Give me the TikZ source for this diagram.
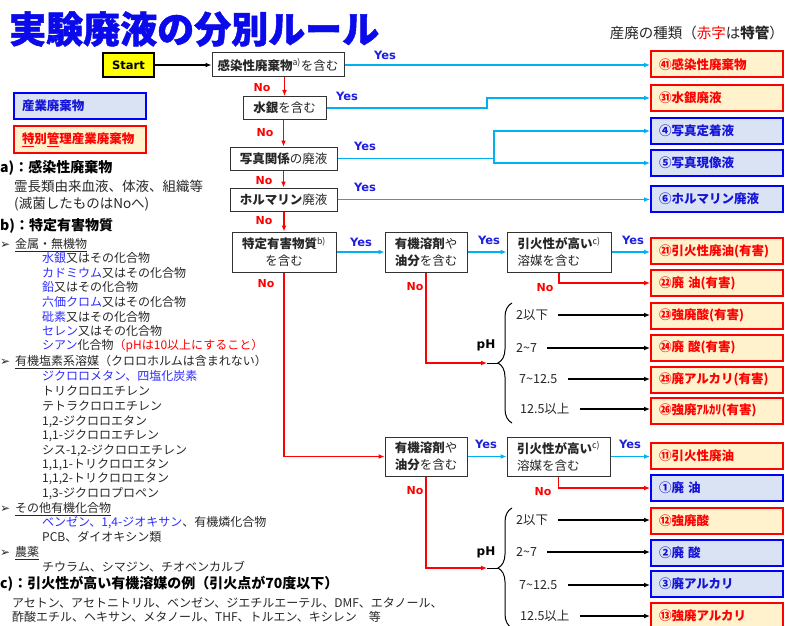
\documentclass[tikz,border=0pt]{standalone}
\usepackage{fontspec}
\setmainfont{Noto Sans CJK JP}
\newfontfamily\vfont{DejaVu Sans}
\newfontfamily\titlefont[BoldFeatures={FakeBold=1.3}]{Noto Sans CJK JP}
\usetikzlibrary{arrows.meta,decorations.pathreplacing}

\definecolor{txt}{RGB}{38,38,38}
\definecolor{titleblue}{RGB}{10,10,235}
\definecolor{yesblue}{RGB}{30,30,225}
\definecolor{listblue}{RGB}{45,45,255}
\definecolor{cyanline}{RGB}{0,176,240}
\definecolor{cream}{RGB}{255,242,204}
\definecolor{paleblue}{RGB}{218,227,243}
\definecolor{boxblue}{RGB}{20,20,215}
\definecolor{startyellow}{RGB}{255,255,0}

\newcommand{\bulmark}{\makebox[15pt][l]{\vfont\fontsize{12}{12}\selectfont ➢}}

\begin{document}
\begin{tikzpicture}[x=1pt,y=-1pt,
    q/.style={draw=black!80, line width=1pt, fill=white, inner sep=0pt, text=txt,
      font=\fontsize{12.5}{17}\selectfont},
    tk/.style={draw=red, line width=2pt, fill=cream, text=red, inner xsep=8pt,
      text width=116pt, minimum height=26pt, align=left,
      font=\fontsize{12.5}{15}\selectfont\bfseries},
    sp/.style={tk, draw=blue, fill=paleblue, text=boxblue},
    yes/.style={text=yesblue, inner sep=0pt, font=\vfont\bfseries\fontsize{11.5}{12}\selectfont},
    no/.style={text=red, inner sep=0pt, font=\vfont\bfseries\fontsize{11}{12}\selectfont},
    yesarr/.style={draw=cyanline, line width=1.6pt, -{Latex[length=6pt,width=5pt]}},
    noarr/.style={draw=red, line width=1.3pt, -{Latex[length=6pt,width=5pt]}},
    blk/.style={draw=black, line width=1.4pt, -{Latex[length=6pt,width=5pt]}},
    phl/.style={anchor=west, inner sep=0pt, text=txt, font=\fontsize{12.5}{14}\selectfont},
    note/.style={anchor=west, inner sep=0pt, text=txt, text height=0.88em, text depth=0.12em,
      font=\fontsize{12}{14}\selectfont},
    head/.style={note, text=black, font=\fontsize{14}{16}\selectfont\bfseries}]

    \useasboundingbox (0,0) rectangle (788,626);
    \clip (0,0) rectangle (788,626);

    % title and key
    \node[anchor=west, inner sep=0pt, text=titleblue, font=\titlefont\fontsize{37}{40}\selectfont\bfseries] (title) at (9,29) {実験廃液の分別ルール};
    \node[anchor=east, inner sep=0pt, text=txt, font=\fontsize{14.5}{16}\selectfont] (kind) at (784,33) {産廃の種類（{\color{red}赤字}は\textbf{特管}）};
    \node[sp] (key1) at (80,106) {産業廃棄物};
    \node[tk] (key2) at (80,139.5) {\underline{特}別\underline{管}理産業廃棄物};

    % questions
    \node[draw=black, line width=1.8pt, fill=startyellow, minimum width=51pt, minimum height=24pt,
      inner sep=0pt, font=\vfont\bfseries\fontsize{11.5}{12}\selectfont] (s) at (128.5,65) {Start};
    \node[q, minimum width=132pt, minimum height=24pt] (q1) at (278,65) {\textbf{感染性廃棄物}\textsuperscript{a)}を含む};
    \node[q, minimum width=83pt, minimum height=23pt] (q2) at (284.5,108) {\textbf{水銀}を含む};
    \node[q, minimum width=107pt, minimum height=23pt] (q3) at (283.5,158.5) {\textbf{写真関係}の廃液};
    \node[q, minimum width=107pt, minimum height=23pt] (q4) at (283.5,199.5) {\textbf{ホルマリン}廃液};
    \node[q, minimum width=104pt, minimum height=40pt, align=center] (q5) at (284,252) {\textbf{特定有害物質}\textsuperscript{b)}\\を含む};
    \node[q, minimum width=82pt, minimum height=40pt, align=center] (q6) at (426,252) {\textbf{有機溶剤}や\\\textbf{油分}を含む};
    \node[q, minimum width=104pt, minimum height=40pt, align=left] (q7) at (559,252) {\textbf{引火性が高い}\textsuperscript{c)}\\溶媒を含む};
    \node[q, minimum width=82pt, minimum height=39pt, align=center] (q8) at (426,456.5) {\textbf{有機溶剤}や\\\textbf{油分}を含む};
    \node[q, minimum width=103pt, minimum height=39pt, align=left] (q9) at (558.5,456.5) {\textbf{引火性が高い}\textsuperscript{c)}\\溶媒を含む};

    % waste kinds
    \node[tk] (r41) at (717,64.5) {㊶感染性廃棄物};
    \node[tk] (r31) at (717,98) {㉛水銀廃液};
    \node[sp] (r4) at (717,131) {④写真定着液};
    \node[sp] (r5) at (717,163) {⑤写真現像液};
    \node[sp] (r6) at (717,199) {⑥ホルマリン廃液};
    \node[tk] (r21) at (717,251) {㉑引火性廃油(有害)};
    \node[tk] (r22) at (717,283) {㉒廃 油(有害)};
    \node[tk] (r23) at (717,315.5) {㉓強廃酸(有害)};
    \node[tk] (r24) at (717,347.5) {㉔廃 酸(有害)};
    \node[tk] (r25) at (717,379.5) {㉕廃アルカリ(有害)};
    \node[tk] (r26) at (717,410.5) {㉖強廃ｱﾙｶﾘ(有害)};
    \node[tk] (r11) at (717,456) {⑪引火性廃油};
    \node[sp] (r1) at (717,488) {①廃 油};
    \node[tk] (r12) at (717,521) {⑫強廃酸};
    \node[sp] (r2) at (717,552.5) {②廃 酸};
    \node[sp] (r3) at (717,584) {③廃アルカリ};
    \node[tk] (r13) at (717,616) {⑬強廃アルカリ};

    % yes branches
    \coordinate (j2) at (487,108);
    \coordinate (j3) at (494,158.5);
    \draw[blk] (s) -- (q1);
    \draw[yesarr] (q1.east) -- (q1.east -| r41.west);
    \draw[yesarr] (q2.east) -- (j2) |- (r31.west);
    \draw[yesarr] (q3.east) -- (j3) |- (r4.west);
    \draw[yesarr] (j3) |- (r5.west);
    \draw[yesarr] (q4.east) -- (q4.east -| r6.west);
    \draw[yesarr] (q5) -- (q6);
    \draw[yesarr] (q6) -- (q7);
    \draw[yesarr] (q7.east) -- (q7.east -| r21.west);
    \draw[yesarr] (q8) -- (q9);
    \draw[yesarr] (q9.east) -- (q9.east -| r11.west);
    \node[yes] (y1) at (385,55) {Yes};
    \node[yes] (y2) at (347,96) {Yes};
    \node[yes] (y3) at (365,146) {Yes};
    \node[yes] (y4) at (365,187) {Yes};
    \node[yes] (y5) at (361,242) {Yes};
    \node[yes] (y6) at (489,240) {Yes};
    \node[yes] (y7) at (633,240) {Yes};
    \node[yes] (y8) at (486,444) {Yes};
    \node[yes] (y9) at (630,444) {Yes};

    % no branches
    \coordinate (p1) at (487,363);
    \coordinate (t1) at (498,363);
    \coordinate (p2) at (487,568);
    \coordinate (t2) at (498,568);
    \draw[noarr] (q2 |- q1.south) -- (q2.north);
    \draw[noarr] (q2.south -| q3) -- (q3.north);
    \draw[noarr] (q3.south) -- (q4.north);
    \draw[noarr] (q5 |- q4.south) -- (q5.north);
    \draw[noarr] (q5.south) |- (q8.west);
    \draw[noarr] (q6.south) |- (p1);
    \draw[noarr] (q7.south) |- (r22.west);
    \draw[noarr] (q8.south) |- (p2);
    \draw[noarr] (q9.south) |- (r1.west);
    \draw[line width=1pt] (p1) -- (t1);
    \draw[line width=1pt] (p2) -- (t2);
    \node[no] (n1) at (262,88) {No};
    \node[no] (n2) at (265,133) {No};
    \node[no] (n3) at (264,181) {No};
    \node[no] (n4) at (264,221) {No};
    \node[no] (n5) at (266,284) {No};
    \node[no] (n6) at (415,287) {No};
    \node[no] (n7) at (545,288) {No};
    \node[no] (n8) at (415,491) {No};
    \node[no] (n9) at (543,492) {No};

    % pH split
    \draw[line width=1pt, decorate, decoration={brace, amplitude=14pt}] (512,423) -- (512,303);
    \draw[line width=1pt, decorate, decoration={brace, amplitude=14pt}] (512,628) -- (512,508);
    \node[inner sep=0pt, font=\vfont\bfseries\fontsize{12}{13}\selectfont] (ph1) at (486,345) {pH};
    \node[inner sep=0pt, font=\vfont\bfseries\fontsize{12}{13}\selectfont] (ph2) at (486,552) {pH};
    \node[phl] (l1) at (516,315) {2以下};
    \node[phl] (l2) at (516,348) {2\textasciitilde 7};
    \node[phl] (l3) at (519,379) {7\textasciitilde 12.5};
    \node[phl] (l4) at (520,409) {12.5以上};
    \node[phl] (m1) at (516,520) {2以下};
    \node[phl] (m2) at (516,552) {2\textasciitilde 7};
    \node[phl] (m3) at (519,585) {7\textasciitilde 12.5};
    \node[phl] (m4) at (520,616) {12.5以上};
    \draw[blk, shorten <=10pt] (l1.east) -- (l1.east -| r23.west);
    \draw[blk, shorten <=10pt] (l2.east) -- (l2.east -| r24.west);
    \draw[blk, shorten <=10pt] (l3.east) -- (l3.east -| r25.west);
    \draw[blk, shorten <=10pt] (l4.east) -- (l4.east -| r26.west);
    \draw[blk, shorten <=10pt] (m1.east) -- (m1.east -| r12.west);
    \draw[blk, shorten <=10pt] (m2.east) -- (m2.east -| r2.west);
    \draw[blk, shorten <=10pt] (m3.east) -- (m3.east -| r3.west);
    \draw[blk, shorten <=10pt] (m4.east) -- (m4.east -| r13.west);

    % notes
    \node[head] (ta) at (0,169) {a)：感染性廃棄物};
    \node[note, font=\fontsize{13.5}{15}\selectfont] (ta1) at (14,188) {霊長類由来血液、体液、組織等};
    \node[note, font=\fontsize{13.5}{15}\selectfont] (ta2) at (14,205) {(滅菌したものはNoへ)};
    \node[head] (tb) at (0,227) {b)：特定有害物質};
    \node[note] (tb1) at (0,245) {\bulmark\underline{金属・無機物}};
    \node[note] (tb2) at (42,259) {{\color{listblue}水銀}又はその化合物};
    \node[note] (tb3) at (42,274) {{\color{listblue}カドミウム}又はその化合物};
    \node[note] (tb4) at (42,288) {{\color{listblue}鉛}又はその化合物};
    \node[note] (tb5) at (42,303) {{\color{listblue}六価クロム}又はその化合物};
    \node[note] (tb6) at (42,318) {{\color{listblue}砒素}又はその化合物};
    \node[note] (tb7) at (42,332) {{\color{listblue}セレン}又はその化合物};
    \node[note] (tb8) at (42,346) {{\color{listblue}シアン}化合物{\color{red}（pHは10以上にすること）}};
    \node[note] (tb9) at (0,362) {\bulmark\underline{有機塩素系溶媒}（クロロホルムは含まれない）};
    \node[note] (tb10) at (42,377) {{\color{listblue}ジクロロメタン、四塩化炭素}};
    \node[note] (tb11) at (42,392) {トリクロロエチレン};
    \node[note] (tb12) at (42,407) {テトラクロロエチレン};
    \node[note] (tb13) at (42,422) {1,2-ジクロロエタン};
    \node[note] (tb14) at (42,436) {1,1-ジクロロエチレン};
    \node[note] (tb15) at (42,451) {シス-1,2-ジクロロエチレン};
    \node[note] (tb16) at (42,465) {1,1,1-トリクロロエタン};
    \node[note] (tb17) at (42,479) {1,1,2-トリクロロエタン};
    \node[note] (tb18) at (42,494) {1,3-ジクロロプロペン};
    \node[note] (tb19) at (0,509) {\bulmark\underline{その他有機化合物}};
    \node[note] (tb20) at (42,523) {{\color{listblue}ベンゼン、1,4-ジオキサン}、有機燐化合物};
    \node[note] (tb21) at (42,538) {PCB、ダイオキシン類};
    \node[note] (tb22) at (0,553) {\bulmark\underline{農薬}};
    \node[note] (tb23) at (42,568) {チウラム、シマジン、チオベンカルブ};
    \node[head] (tc) at (0,585) {c)：引火性が高い有機溶媒の例（引火点が70度以下）};
    \node[note] (tc1) at (12,604) {アセトン、アセトニトリル、ベンゼン、ジエチルエーテル、DMF、エタノール、};
    \node[note] (tc2) at (12,618) {酢酸エチル、ヘキサン、メタノール、THF、トルエン、キシレン　等};

\end{tikzpicture}
\end{document}
